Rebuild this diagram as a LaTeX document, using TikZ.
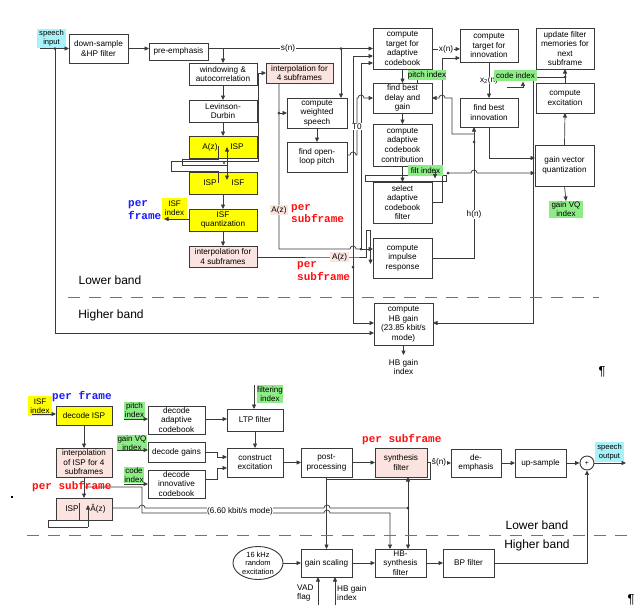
\documentclass[tikz,border=0pt]{standalone}
\usepackage{fontspec}
\setmainfont{Liberation Sans}
\newfontfamily\courfont{Liberation Mono}
\usetikzlibrary{arrows.meta,shapes.geometric}
\definecolor{ybx}{HTML}{FFFF00}
\definecolor{pbx}{HTML}{FBE3DF}
\definecolor{gbx}{HTML}{8EEC86}
\definecolor{cbx}{HTML}{A8F2FA}
\definecolor{lc}{HTML}{3A3A3A}
\definecolor{rtx}{HTML}{FF1010}
\definecolor{btx}{HTML}{1A1AFF}
\newcommand{\mybox}[7]{\node[#6, minimum width={(#4)-(#2)}, minimum height={(#5)-(#3)}] (#1) at ({((#2)+(#4))/2},{((#3)+(#5))/2}) {#7};}
\newcommand{\fs}{\fontsize{8.2}{9.6}\selectfont}
\tikzset{
  box/.style={draw=lc, line width=0.9pt, fill=white, align=center, inner sep=0pt, outer sep=0pt, font=\fs},
  ybox/.style={box, fill=ybx},
  pbox/.style={box, fill=pbx},
  gtag/.style={fill=gbx, align=center, inner sep=0pt, outer sep=0pt, font=\fontsize{8}{9}\selectfont},
  ytag/.style={gtag, fill=ybx},
  ctag/.style={gtag, fill=cbx, font=\fontsize{7.6}{9}\selectfont},
  wire/.style={draw=lc, line width=0.7pt},
  arr/.style={wire, -{Triangle[length=4.5pt,width=4pt]}},
  lbl/.style={fill=white, inner sep=0.6pt, font=\fs},
  azl/.style={fill=pbx, inner sep=1.6pt, font=\fs},
  band/.style={font=\fontsize{12}{14}\selectfont},
  dsh/.style={draw=black!55, line width=1pt, dash pattern=on 12pt off 9pt},
  redt/.style={text=rtx, font=\courfont\bfseries\fontsize{11}{12.5}\selectfont, align=left, inner sep=0pt},
  bluet/.style={redt, text=btx},
  dot/.style={fill=lc},
}
\begin{document}
\begin{tikzpicture}[x=1pt,y=-1pt]
\useasboundingbox (0,0) rectangle (635,611);
\fill[white] (0,0) rectangle (635,611);

% ================= TOP (encoder) =================
\mybox{sin}{37}{29}{66}{48}{ctag}{speech\\input}
\mybox{ds}{69}{34}{128}{63}{box}{down-sample\\\&HP filter}
\mybox{pre}{149}{43}{208}{60}{box}{pre-emphasis}
\mybox{win}{189}{63}{257}{85}{box}{windowing \&\\autocorrelation}
\mybox{lev}{189}{100}{257}{122}{box}{Levinson-\\Durbin}
\mybox{aisp}{189}{136}{257}{158}{ybox}{}
\mybox{ispisf}{189}{172}{257}{194}{ybox}{}
\mybox{isfq}{189}{209}{257}{231}{ybox}{ISF\\quantization}
\mybox{intb}{189}{246}{257}{267}{pbox}{interpolation for\\4 subframes}
\mybox{inta}{266}{63}{333}{83}{pbox}{interpolation for\\4 subframes}
\mybox{cws}{287}{98}{347}{128}{box}{compute\\weighted\\speech}
\mybox{olp}{287}{142}{347}{172}{box}{find open-\\loop pitch}
\mybox{cta}{373}{28}{432}{69}{box}{compute\\target for\\adaptive\\codebook}
\mybox{fbd}{373}{83}{432}{113}{box}{find best\\delay and\\gain}
\mybox{cac}{373}{124}{432}{166}{box}{compute\\adaptive\\codebook\\contribution}
\mybox{saf}{373}{182}{432}{223}{box}{select\\adaptive\\codebook\\filter}
\mybox{cir}{373}{238}{432}{278}{box}{compute\\impulse\\response}
\mybox{hbg}{374}{303}{433}{345}{box}{compute\\HB gain\\(23.85 kbit/s\\mode)}
\mybox{cti}{460}{29}{518}{62}{box}{compute\\target for\\innovation}
\mybox{fbi}{460}{98}{518}{127}{box}{find best\\innovation}
\mybox{ufm}{536}{28}{594}{69}{box}{update filter\\memories for\\next\\subframe}
\mybox{cex}{536}{83}{594}{113}{box}{compute\\excitation}
\mybox{gvq}{535}{145}{594}{186}{box}{gain vector\\quantization}

\node[font=\fs] at (210,147) {A(z)};
\node[font=\fs] at (237,147) {ISP};
\node[font=\fs] at (210,183) {ISP};
\node[font=\fs] at (238,183) {ISF};

% connectors
\draw[arr] ([xshift=3pt]ds.west -| sin.west) -- (ds.west);
\fill[dot] (55,48.5) circle (1.5);
\draw[arr] (55,48.5) -- (55,333) -- (hbg.west |- 0,333);
\draw[arr] (ds.east) -- (pre.west |- ds.east);
\draw[arr] (pre.east |- ds.east) -- node[lbl,pos=0.485]{s(n)} (cta.west |- ds.east);
\draw[arr] (win.north |- ds.east) -- (win.north);
\draw[arr] (win.south) -- (lev.north);
\draw[arr] (lev.south) -- (aisp.north);
\draw[arr] (ispisf.south) -- (isfq.north);
\draw[arr] (isfq.south) -- (intb.north);

% ISP / ISF loops
\draw[wire] (218,146) -- (218,159.5) -- (182,159.5) -- (182,165) -- (227,165);
\draw[arr] (227,165) -- (227,147);
\draw[arr] (227,165) -- (227,180);
\fill[dot] (224,163) circle (1.2);
\draw[wire] (218,183) -- (218,171) -- (171,171) -- (171,161.5) -- (258,161.5) -- (258,73);
\draw[arr] (258,73) -- (inta.west |- 0,73);

% unquantized A(z)
\draw[wire] ([xshift=13pt]inta.south west) -- node[azl,pos=0.765]{A(z)} (279,249) -- (350,249) arc (180:360:3) -- (361,249);
\fill[dot] (279,113) circle (1.5);
\draw[arr] (279,113) -- (cws.west);
\fill[dot] (361,249) circle (1.5);
\draw[arr] (361,249) -- (361,63) -- (cta.west |- 0,63);
\draw[arr] (361,249) -- (cir.west |- 0,249);

% quantized A(z)
\draw[wire] (intb.east |- 0,257) -- node[azl,pos=0.86]{A(z)} (353,257) -- (366,257) -- (366,230) -- (370.5,230);
\draw[arr] (370.5,230) -- (370.5,264);
\draw[arr] (353,257) -- (353,56) -- (cta.west |- 0,56);
\draw[arr] (353,257) -- (353,323) -- (hbg.west |- 0,323);
\fill[dot] (353,267) circle (1.5);

% T0
\draw[arr] (olp.east |- 0,155) -- (350,155) arc (180:360:3) -- (357,155) -- node[lbl,pos=0.5]{T0} (357,98) -- (358,98) arc (180:360:3) -- (fbd.west |- 0,98);

% weighted speech
\draw[arr] (cws.south) -- (olp.north);
\fill[dot] (341,48.5) circle (1.5);
\draw[arr] (341,48.5) -- (341,0 |- cws.north);

% adaptive codebook column
\draw[arr] (cta.south) -- (fbd.north);
\draw[arr] (fbd.south) -- (cac.north);
\draw[wire] (365,175) rectangle (446,181);
\draw[arr] (cac.south) -- (saf.north);
\draw[wire] (417,83) -- (417,76);

% x(n)
\draw[arr] (cta.east |- 0,49) -- node[lbl]{x(n)} (cti.west |- 0,49);
\draw[arr] (saf.east |- 0,202) -- (442,202) -- (442,58) -- (cti.west |- 0,58);

% h(n)
\draw[arr] (cir.east |- 0,258) -- (474,258) -- node[lbl,pos=0.33]{h(n)} (474,0 |- fbi.south);
\fill[dot] (474,142) circle (1.5);
\draw[arr] (474,134) -- (452,134) -- (452,98) -- (445,98) arc (0:-180:3) -- (fbd.east |- 0,98);

% filt index -> gain VQ
\fill[dot] (448,173) circle (1.5);
\draw[arr] (448,173) -- (471,173) arc (180:360:3) -- (gvq.west |- 0,173);

% innovation
\draw[arr] (cti.south) -- node[lbl]{x\textsubscript{2}(n)} (fbi.north);
\draw[arr] (507,87) -- (523,87) -- (523,81.5);
\draw[arr] (fbi.south) -- (489,158) -- (gvq.west |- 0,158);
\draw[arr] (gvq.north) -- (cex.south);
\draw[arr] (cex.north) -- (ufm.south);
\fill[dot] (565,77) circle (1.5);
\draw[arr] (565,77) -- (533,77) -- (533,323) -- (hbg.east |- 0,323);

% tags
\mybox{isfidx}{162}{198}{187}{219}{ytag}{ISF\\index}
\mybox{pidx}{408}{70}{446}{80}{gtag}{pitch index}
\mybox{cidx}{494}{70}{537}{81}{gtag}{code index}
\mybox{fidx}{408}{165}{443}{176}{gtag}{filt index}
\mybox{gvqi}{549}{201}{583}{218}{gtag}{gain VQ\\index}
\draw[arr] (435,170) -- (435,178.5);
\draw[arr] (gvq.south) -- (gvqi.north);
\draw[arr] (isfq.west |- 0,219) -- (164,219);
\draw[arr] (hbg.south) -- (403.5,355);
\node[font=\fs, align=center] (hbgi) at (403.5,367) {HB gain\\index};

\node[bluet] at (128,210) [anchor=west] {per\\frame};
\node[redt] at (291,213.5) [anchor=west] {per\\subframe};
\node[redt] at (297,271) [anchor=west] {per\\subframe};

\node[band] at (110,280) {Lower band};
\node[band] at (111,315) {Higher band};
\draw[dsh] (68,297) -- (599,297);
\node[font=\fontsize{13}{13}\selectfont] at (602,372) {¶};

% ================= BOTTOM (decoder) =================
\mybox{isfib}{28}{396}{52}{416}{ytag}{ISF\\index}
\mybox{dec}{56}{406}{112}{425}{ybox}{decode ISP}
\mybox{intisp}{56}{448}{112}{477}{pbox}{\fontsize{8}{9.2}\selectfont interpolation\\of ISP for 4\\subframes}
\mybox{ispa}{56}{498}{112}{520}{pbox}{}
\node[font=\fs] at (72,509) {ISP};
\node[font=\fs] at (98,509) {Â(z)};
\mybox{pidxb}{124}{402}{145}{419}{gtag}{pitch\\index}
\mybox{gidxb}{117}{435}{147}{451}{gtag}{gain VQ\\index}
\mybox{cidxb}{124}{467}{144}{483}{gtag}{code\\index}
\mybox{dac}{148}{406}{205}{434}{box}{decode\\adaptive\\codebook}
\mybox{dg}{148}{442}{205}{462}{box}{decode gains}
\mybox{dic}{148}{470}{205}{498}{box}{decode\\innovative\\codebook}
\mybox{ltp}{227}{409}{283}{431}{box}{LTP filter}
\mybox{fidxb}{257}{385}{283}{403}{gtag}{filtering\\index}
\mybox{cexb}{227}{448}{283}{477}{box}{construct\\excitation}
\mybox{pp}{301}{448}{352}{477}{box}{post-\\processing}
\mybox{sf}{375}{448}{427}{477}{pbox}{synthesis\\filter}
\mybox{de}{451}{449}{501}{477}{box}{de-\\emphasis}
\mybox{ups}{515}{449}{566}{477}{box}{up-sample}
\node[circle, draw=lc, line width=0.9pt, minimum size=14, inner sep=0pt, font=\fontsize{7}{7}\selectfont] (sum) at (587,463) {+};
\mybox{sout}{595}{442}{624}{462}{ctag}{speech\\output}
\node[ellipse, draw=lc, line width=0.9pt, minimum width=50, minimum height=33, inner sep=0pt, align=center, font=\fontsize{7.5}{8.6}\selectfont] (rnd) at (258,563) {16 kHz\\random\\excitation};
\mybox{gs}{301}{549}{352}{577}{box}{gain scaling}
\mybox{hbs}{375}{549}{426}{577}{box}{HB-\\synthesis\\filter}
\mybox{bp}{443}{549}{494}{577}{box}{BP filter}

\draw[arr] (32,414) -- (dec.west |- 0,414);
\draw[arr] (dec.south) -- (intisp.north);
\draw[arr] (intisp.south) -- (ispa.north);
\draw[wire] (79,503) -- (79,520) -- (48,520) -- (48,527) -- (88,527);
\draw[arr] (88,527) -- (88,505);

\draw[arr] (84,487) -- (142,487) -- (142,513) -- (324,513) arc (180:360:3) -- (390,513) -- (390,0 |- hbs.north);
\draw[wire] (ispa.east |- 0,508) -- (139,508) arc (180:360:3) -- (324,508) arc (180:360:3) -- (408,508);
\fill[dot] (408,508) circle (1.5);
\draw[arr] (408,508) -- (408,0 |- sf.south);
\draw[arr] (408,508) -- (408,0 |- hbs.north);
\node[lbl] at (240,511) {(6.60 kbit/s mode)};

\draw[wire] (430,462.5) -- (430,479) -- (327,479);
\draw[arr] (pp.south) -- (gs.north);

\draw[arr] (124,419) -- (dac.west |- 0,419);
\draw[arr] (117,450) -- (dg.west |- 0,450);
\draw[arr] (124,484) -- (dic.west |- 0,484);
\draw[arr] (dac.east |- 0,419) -- (ltp.west |- 0,419);
\draw[arr] (dg.east |- 0,452) -- (217,452) -- (217,457) -- (cexb.west |- 0,457);
\draw[arr] (dic.east |- 0,479) -- (217,479) -- (217,468) -- (cexb.west |- 0,468);
\draw[arr] (254,385) -- (254,0 |- ltp.north);
\draw[arr] (ltp.south) -- (cexb.north);
\draw[arr] (cexb.east) -- (pp.west);
\draw[arr] (pp.east) -- (sf.west);
\draw[arr] (sf.east) -- node[lbl]{ŝ(n)} (de.west);
\draw[arr] (de.east) -- (ups.west);
\draw[arr] (ups.east) -- (sum.west);
\draw[arr] (sum.east) -- (626,463);
\draw[arr] (bp.east) -- (587,563) -- (sum.south);
\draw[arr] (rnd.east) -- (gs.west);
\draw[arr] (gs.east) -- (hbs.west);
\draw[arr] (hbs.east) -- (bp.west);
\draw[arr] (318,605) -- (318,0 |- gs.south);
\draw[arr] (335,605) -- (335,0 |- gs.south);
\node[font=\fs, align=left, anchor=west, inner sep=0pt] at (297,593) {VAD\\flag};
\node[font=\fs, align=left, anchor=west, inner sep=0pt] at (337,593) {HB gain\\index};

\node[bluet, anchor=west] at (52,397) {per frame};
\node[redt, anchor=west] at (32,487) {per subframe};
\node[redt, anchor=west] at (362,440) {per subframe};

\node[band] at (537,525) {Lower band};
\node[band] at (537,545) {Higher band};
\draw[dsh] (27,535) -- (627,535);
\fill (10.5,495.5) rectangle (13,498);
\node[font=\fontsize{13}{13}\selectfont] at (631,600) {¶};
\end{tikzpicture}
\end{document}
